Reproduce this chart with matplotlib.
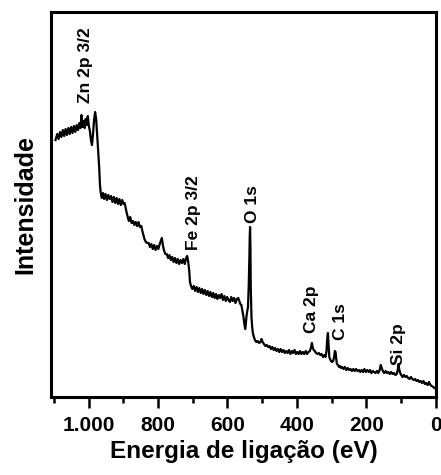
import matplotlib
matplotlib.use("Agg")
import matplotlib.pyplot as plt
from matplotlib.ticker import MultipleLocator, FuncFormatter

energy = [1095, 1090, 1086, 1082, 1078, 1074, 1070, 1066, 1062, 1058, 1054, 1050, 1046, 1042, 1038, 1034,
          1030, 1026, 1023, 1020, 1017, 1014, 1011, 1008, 1005, 1002, 999, 996, 993, 990, 987, 984, 981,
          978, 975, 972, 969, 967, 965, 962, 958, 955, 951, 947, 943, 939, 935, 931, 927, 923, 919, 915,
          911, 907, 903, 899, 896, 893, 890, 887, 884, 880, 876, 872, 868, 864, 860, 856, 852, 848, 845,
          842, 839, 835, 831, 827, 823, 819, 815, 811, 807, 803, 799, 795, 792, 789, 786, 783, 779, 775,
          771, 767, 763, 759, 755, 751, 747, 743, 739, 735, 731, 727, 723, 719, 716, 713, 710, 708, 705,
          701, 697, 693, 689, 685, 681, 677, 673, 669, 665, 661, 657, 653, 649, 645, 641, 637, 633, 629,
          625, 621, 617, 613, 609, 605, 601, 597, 593, 589, 585, 581, 577, 573, 569, 566, 563, 560, 557,
          554, 551, 549, 547, 545, 543, 541, 539, 537, 536, 535, 534, 533, 531, 529, 527, 524, 521, 517,
          513, 509, 505, 502, 499, 495, 491, 487, 483, 479, 475, 471, 467, 463, 459, 455, 451, 447, 443,
          439, 435, 431, 427, 423, 419, 415, 411, 407, 403, 399, 395, 391, 387, 383, 379, 375, 371, 367,
          363, 360, 357, 355, 352, 349, 345, 341, 337, 333, 329, 325, 321, 318, 315, 313, 311, 309, 307,
          305, 302, 299, 296, 293, 291, 289, 287, 285, 282, 279, 276, 273, 270, 266, 262, 258, 254, 250,
          246, 242, 238, 234, 230, 226, 222, 218, 214, 210, 206, 202, 198, 194, 190, 186, 182, 178, 174,
          170, 166, 162, 159, 156, 153, 149, 145, 141, 137, 133, 129, 125, 121, 117, 113, 110, 108, 106,
          103, 100, 96, 92, 88, 84, 80, 76, 72, 68, 64, 60, 56, 52, 48, 44, 40, 36, 32, 28, 24, 20, 16,
          12, 8, 4, 0]

intensity = [257, 263, 258, 265, 260, 267, 261, 268, 262, 269, 263, 270, 264, 271, 265, 272,
             267, 274, 269, 282, 270, 276, 269, 278, 272, 281, 271, 266, 257, 252, 263, 277, 285,
             278, 262, 245, 228, 212, 205, 199, 204, 198, 203, 197, 202, 198, 201, 195, 200, 194, 199, 193,
             198, 192, 197, 193, 194, 189, 184, 180, 176, 180, 174, 176, 172, 175, 171, 175, 170, 171, 166,
             162, 158, 155, 154, 154, 150, 153, 148, 152, 147, 151, 148, 153, 156, 159, 152, 147, 143, 143,
             139, 142, 137, 140, 135, 139, 134, 138, 133, 137, 134, 138, 133, 139, 141, 135, 126, 115, 111,
             108, 111, 106, 110, 105, 109, 104, 108, 103, 107, 102, 106, 101, 105, 100, 104, 99, 103, 98,
             102, 99, 103, 97, 101, 96, 100, 97, 95, 100, 96, 99, 94, 98, 99, 96, 93, 92, 86,
             80, 72, 68, 74, 82, 86, 90, 110, 140, 160, 170, 150, 110, 80, 70, 64, 60, 57, 55,
             56, 54, 55, 58, 55, 53, 51, 52, 50, 51, 48, 50, 47, 49, 46, 48, 45, 48, 45,
             47, 44, 46, 44, 47, 43, 46, 44, 47, 43, 45, 43, 46, 43, 45, 43, 46, 43, 45,
             46, 49, 54, 50, 47, 46, 44, 43, 44, 42, 43, 40, 42, 40, 46, 58, 64, 52, 40,
             38, 36, 35, 36, 40, 46, 45, 38, 33, 32, 30, 31, 29, 30, 28, 30, 27, 29, 27,
             28, 26, 28, 26, 28, 26, 27, 25, 27, 25, 28, 25, 27, 25, 27, 24, 26, 25, 24,
             26, 24, 27, 32, 29, 26, 24, 26, 24, 25, 23, 25, 23, 24, 22, 23, 27, 33, 28,
             24, 22, 20, 22, 20, 21, 19, 18, 20, 18, 17, 18, 16, 17, 15, 16, 14, 16, 13, 14, 12, 15, 12,
             11, 10, 9, 8]

peak_labels = ["Zn 2p 3/2", "Fe 2p 3/2", "O 1s", "Ca 2p", "C 1s", "Si 2p"]
peak_label_x = [1009, 698, 529, 359, 276, 109]
peak_label_y = [294, 147, 174, 64, 57, 32]

major_ticks = [1000, 800, 600, 400, 200, 0]

plt.rcParams['font.family'] = ['Liberation Sans', 'DejaVu Sans']
plt.rcParams['font.weight'] = 'bold'

fig = plt.figure(figsize=(4.41, 4.75), dpi=100)
ax = fig.add_axes([0.1156, 0.1642, 0.8730, 0.8105])

ax.plot(energy, intensity, color='black', lw=1.6)

ax.set_xlim(1108, 0)
ax.set_ylim(0, 385)

for s in ax.spines.values():
    s.set_linewidth(2.2)

ax.set_xticks(major_ticks)
ax.xaxis.set_minor_locator(MultipleLocator(100))
ax.xaxis.set_major_formatter(FuncFormatter(lambda v, p: f"{int(v):,}".replace(",", ".")))
ax.tick_params(axis='x', which='major', direction='out', length=8, width=1.8, pad=6,
               labelsize=15)
ax.tick_params(axis='x', which='minor', direction='out', length=4.5, width=1.8)
ax.set_yticks([])
for lab in ax.get_xticklabels():
    lab.set_fontweight('bold')

ax.set_xlabel("Energia de ligação (eV)", fontsize=17.5, fontweight='bold', labelpad=3)
ax.set_ylabel("Intensidade", fontsize=18, fontweight='bold', labelpad=10)

for t, xv, yv in zip(peak_labels, peak_label_x, peak_label_y):
    ax.text(xv, yv, t, rotation=90, ha='center', va='bottom', fontsize=12.5, fontweight='bold')

fig.savefig("out.png", dpi=100)
